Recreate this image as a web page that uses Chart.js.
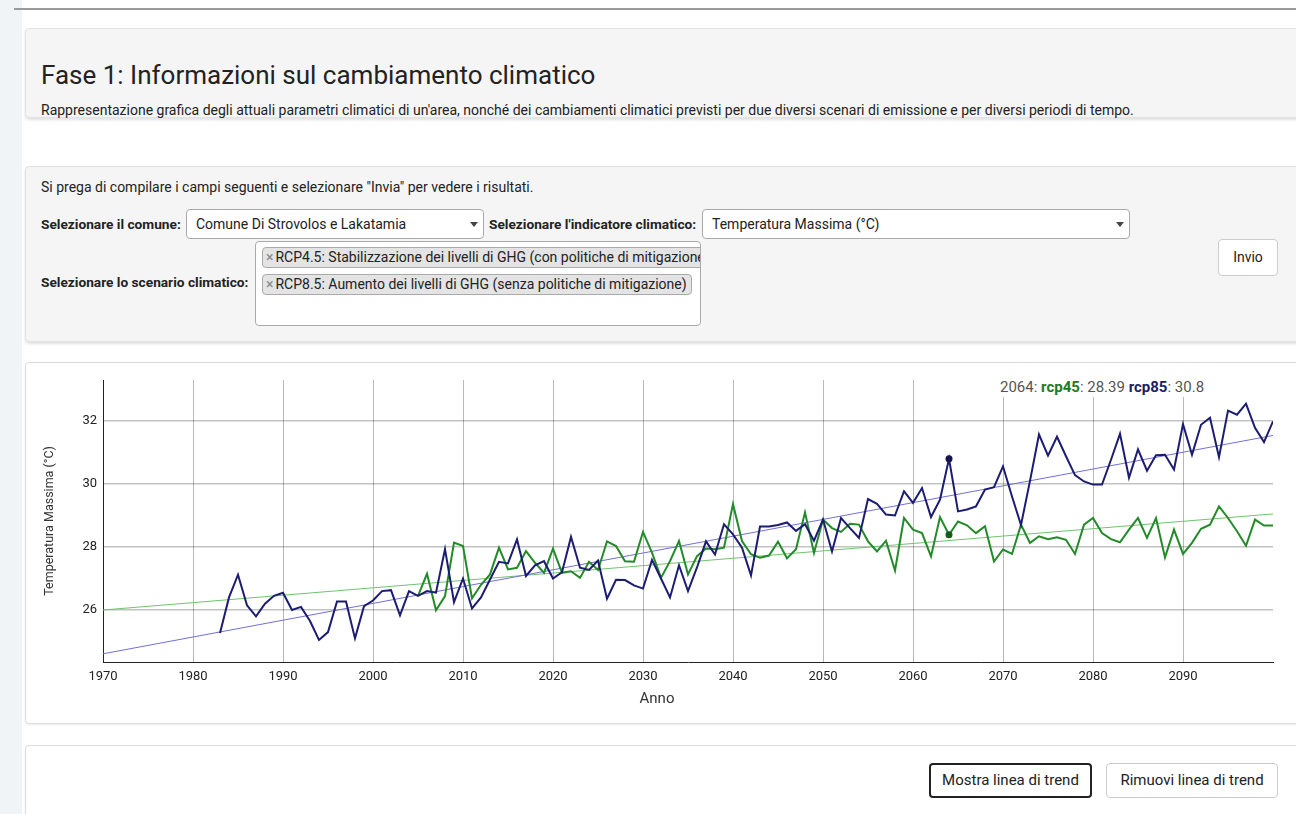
<!DOCTYPE html>
<html lang="it">
<head>
<meta charset="utf-8">
<title>Fase 1: Informazioni sul cambiamento climatico</title>
<script src="https://cdn.jsdelivr.net/npm/chart.js@4/dist/chart.umd.min.js"></script>
<style>
  html, body { margin: 0; padding: 0; }
  body {
    width: 1296px; height: 814px; overflow: hidden; position: relative;
    background: #fff; font-family: Roboto, "Noto Sans", sans-serif; color: #222;
  }
  .side { position: absolute; left: 0; top: 0; width: 22px; height: 814px; background: #f1f4f7; }
  .frame { position: absolute; left: 14px; top: 8px; width: 1300px; height: 2px; background: #9a9a9a; }
  .well {
    position: absolute; left: 25px; width: 1290px; background: #f5f5f5;
    border: 1px solid #e3e3e3; border-radius: 4px; box-shadow: 0 2px 3px rgba(0,0,0,0.12);
  }
  .panel {
    position: absolute; left: 25px; width: 1290px; background: #fff;
    border: 1px solid #ddd; border-radius: 4px; box-shadow: 0 1px 2px rgba(0,0,0,0.08);
  }
  .t { position: absolute; white-space: nowrap; }
  .b { font-weight: bold; font-size: 13.7px; }
  .sel {
    position: absolute; height: 30px; background: #fff; border: 1px solid #aaa;
    border-radius: 4px; box-sizing: border-box; font-size: 14px; line-height: 28px; padding-left: 9px;
  }
  .arrow {
    position: absolute; top: 12px; width: 0; height: 0;
    border-left: 4px solid transparent; border-right: 4px solid transparent; border-top: 5px solid #444;
  }
  .multi {
    position: absolute; left: 255px; top: 241px; width: 446px; height: 85px; background: #fff;
    border: 1px solid #aaa; border-radius: 4px; box-sizing: border-box; overflow: hidden;
  }
  .tag {
    position: absolute; left: 6px; height: 21px; background: #e4e4e4; border: 1px solid #aaa;
    border-radius: 4px; box-sizing: border-box; font-size: 14px; line-height: 19px; padding: 0 4px 0 3px;
    white-space: nowrap;
  }
  .tag span { color: #888; margin-right: 2px; }
  .btn {
    position: absolute; background: #fff; border: 1px solid #ccc; border-radius: 4px;
    box-sizing: border-box; text-align: center; color: #222;
  }
  #chartBox { position: absolute; left: 25px; top: 363px; width: 1271px; height: 359px; }
  #hover {
    position: absolute; left: 998px; top: 377px; background: #fff; font-size: 15px;
    color: #555; padding: 0 2px; line-height: 20px; white-space: nowrap;
  }
  #hover b.g { color: #1d7a24; }
  #hover b.n { color: #1c1c66; }
  #xTitle { position: absolute; left: 657px; top: 688px; transform: translateX(-50%); font-size: 15px; color: #333; line-height: 20px; }
</style>
</head>
<body>
<div class="side"></div>
<div class="frame"></div>

<div class="well" style="top:28px;height:88px;"></div>
<div class="t" style="left:41px;top:60px;font-size:26px;line-height:30px;">Fase 1: Informazioni sul cambiamento climatico</div>
<div class="t" style="left:41px;top:101px;font-size:14px;line-height:18px;">Rappresentazione grafica degli attuali parametri climatici di un'area, nonché dei cambiamenti climatici previsti per due diversi scenari di emissione e per diversi periodi di tempo.</div>

<div class="well" style="top:166px;height:174px;"></div>
<div class="t" style="left:41px;top:178px;font-size:14px;line-height:18px;">Si prega di compilare i campi seguenti e selezionare "Invia" per vedere i risultati.</div>
<div class="t b" style="left:41px;top:215px;line-height:18px;">Selezionare il comune:</div>
<div class="sel" style="left:186px;top:209px;width:298px;">Comune Di Strovolos e Lakatamia<div class="arrow" style="left:283px;"></div></div>
<div class="t b" style="left:489px;top:215px;line-height:18px;">Selezionare l'indicatore climatico:</div>
<div class="sel" style="left:702px;top:209px;width:428px;">Temperatura Massima (°C)<div class="arrow" style="left:413px;"></div></div>
<div class="t b" style="left:41px;top:273px;line-height:18px;">Selezionare lo scenario climatico:</div>
<div class="multi">
  <div class="tag" style="top:5px;"><span>×</span>RCP4.5: Stabilizzazione dei livelli di GHG (con politiche di mitigazione)</div>
  <div class="tag" style="top:32px;"><span>×</span>RCP8.5: Aumento dei livelli di GHG (senza politiche di mitigazione)</div>
</div>
<div class="btn" style="left:1218px;top:239px;width:60px;height:37px;line-height:35px;font-size:14px;">Invio</div>

<div class="panel" style="top:362px;height:360px;"></div>
<div id="chartBox"><canvas id="tempChart"></canvas></div>
<div id="hover">2064: <b class="g">rcp45</b>: 28.39 <b class="n">rcp85</b>: 30.8</div>
<div id="xTitle">Anno</div>

<div class="panel" style="top:745px;height:100px;"></div>
<div class="btn" style="left:929px;top:763px;width:163px;height:35px;line-height:31px;border:2px solid #222;font-size:15px;">Mostra linea di trend</div>
<div class="btn" style="left:1106px;top:763px;width:172px;height:35px;line-height:33px;font-size:15px;">Rimuovi linea di trend</div>

<script>
// serie annuali
var rcp85Start = 1983;
var rcp85 = [
  25.27, 26.4, 27.12, 26.15, 25.8, 26.2, 26.45,                 // 1983-1989
  26.55, 26.0, 26.1, 25.65, 25.05, 25.3, 26.27, 26.27, 25.1, 26.12, // 1990-1999
  26.3, 26.6, 26.63, 25.83, 26.6, 26.45, 26.6, 26.55, 27.93, 26.25, // 2000-2009
  27.0, 26.05, 26.4, 26.97, 27.53, 27.48, 28.24, 27.08, 27.42, 27.55, // 2010-2019
  27.0, 27.2, 28.32, 27.34, 27.27, 27.57, 26.36, 26.96, 26.95, 26.78, // 2020-2029
  26.68, 27.59, 27.0, 26.4, 27.42, 26.6, 27.35, 28.18, 27.76, 28.72, // 2030-2039
  28.4, 27.98, 27.1, 28.65, 28.65, 28.7, 28.78, 28.51, 28.72, 28.2,  // 2040-2049
  28.87, 27.86, 28.92, 28.6, 28.29, 29.52, 29.37, 29.03, 29.0, 29.77, // 2050-2059
  29.4, 29.87, 28.95, 29.5, 30.8, 29.13, 29.19, 29.29, 29.82, 29.9,  // 2060-2069
  30.56, 29.6, 28.7, 30.1, 31.57, 30.9, 31.5, 30.88, 30.28, 30.08,   // 2070-2079
  29.98, 29.98, 30.77, 31.59, 30.2, 31.1, 30.42, 30.91, 30.93, 30.46, // 2080-2089
  31.9, 30.93, 31.88, 32.1, 30.85, 32.33, 32.2, 32.55, 31.78, 31.33, // 2090-2099
  31.99                                                              // 2100
];

var rcp45Start = 2005;
var rcp45 = [
  26.45, 27.15, 25.99, 26.44, 28.14,                                 // 2005-2009
  28.03, 26.37, 26.8, 27.13, 27.98, 27.29, 27.34, 27.87, 27.5, 27.18, // 2010-2019
  27.95, 27.18, 27.23, 27.02, 27.53, 27.27, 28.18, 28.03, 27.55, 27.53, // 2020-2029
  28.48, 27.82, 27.02, 27.55, 28.19, 27.13, 27.71, 27.95, 27.93, 27.98, // 2030-2039
  29.36, 28.19, 27.77, 27.66, 27.73, 28.17, 27.64, 27.93, 29.1, 27.81,  // 2040-2049
  28.87, 28.6, 28.48, 28.74, 28.71, 28.18, 27.86, 28.2, 27.25, 28.92,   // 2050-2059
  28.55, 28.44, 27.7, 28.95, 28.39, 28.81, 28.69, 28.44, 28.66, 27.54,  // 2060-2069
  27.92, 27.78, 28.71, 28.13, 28.34, 28.25, 28.31, 28.23, 27.78, 28.71, // 2070-2079
  28.92, 28.44, 28.25, 28.15, 28.55, 28.92, 28.29, 28.92, 27.67, 28.55, // 2080-2089
  27.78, 28.13, 28.58, 28.71, 29.29, 28.92, 28.5, 28.04, 28.87, 28.68,  // 2090-2099
  28.68                                                                 // 2100
];

// linee di tendenza (estremi)
var trendYears = [1970, 2100];
var trend85 = [24.61, 31.54];
var trend45 = [26.0, 29.05];

var xTicks = [1970, 1980, 1990, 2000, 2010, 2020, 2030, 2040, 2050, 2060, 2070, 2080, 2090];
var yTicks = [26, 28, 30, 32];
var hoverYear = 2064;

function toPoints(start, values) {
  return values.map(function(v, i) { return {x: start + i, y: v}; });
}
function trendPoints(values) {
  return trendYears.map(function(yr, i) { return {x: yr, y: values[i]}; });
}
function hoverRadius(c) {
  return c.raw && c.raw.x === hoverYear ? 3.5 : 0;
}

Chart.defaults.font.family = 'Roboto, "Noto Sans", sans-serif';

var ctx = document.getElementById('tempChart').getContext('2d');
var chart = new Chart(ctx, {
  type: 'line',
  data: {
    datasets: [{
      label: 'rcp85',
      data: toPoints(rcp85Start, rcp85),
      borderColor: '#1c1c72',
      backgroundColor: '#14144f',
      borderWidth: 2,
      pointRadius: hoverRadius,
      pointBorderWidth: 0
    }, {
      label: 'rcp45',
      data: toPoints(rcp45Start, rcp45),
      borderColor: 'rgb(34,139,40)',
      backgroundColor: '#145c1c',
      borderWidth: 2,
      pointRadius: hoverRadius,
      pointBorderWidth: 0
    }, {
      label: 'trend rcp85',
      data: trendPoints(trend85),
      borderColor: 'rgb(112,112,215)',
      borderWidth: 1,
      pointRadius: 0
    }, {
      label: 'trend rcp45',
      data: trendPoints(trend45),
      borderColor: 'rgb(112,195,112)',
      borderWidth: 1,
      pointRadius: 0
    }]
  },
  options: {
    responsive: true,
    maintainAspectRatio: false,
    animation: false,
    events: [],
    layout: { padding: { top: 17, right: 23, left: 0, bottom: 0 } },
    plugins: { legend: { display: false }, tooltip: { enabled: false } },
    elements: { line: { tension: 0 } },
    scales: {
      x: {
        type: 'linear',
        min: 1970,
        max: 2100,
        afterBuildTicks: function(s) { s.ticks = xTicks.map(function(v) { return {value: v}; }); },
        afterFit: function(s) { s.height = 60; },
        ticks: { autoSkip: false, maxRotation: 0, padding: 7, color: '#222', font: { size: 13 },
                 callback: function(v) { return String(v); } },
        grid: { color: 'rgba(0,0,0,0.28)', lineWidth: 1, drawTicks: false },
        border: { color: '#222', width: 1 }
      },
      y: {
        min: 24.35,
        max: 33.3,
        afterBuildTicks: function(s) { s.ticks = yTicks.map(function(v) { return {value: v}; }); },
        afterFit: function(s) { s.width = 78; },
        ticks: { padding: 6, color: '#222', font: { size: 13 },
                 callback: function(v) { return String(v); } },
        grid: { color: 'rgba(0,0,0,0.24)', lineWidth: 1.5, drawTicks: false },
        border: { color: '#222', width: 1 },
        title: { display: true, text: 'Temperatura Massima (°C)', color: '#333', font: { size: 12.5 }, padding: { top: 17, bottom: 0 } }
      }
    }
  }
});
</script>
</body>
</html>
